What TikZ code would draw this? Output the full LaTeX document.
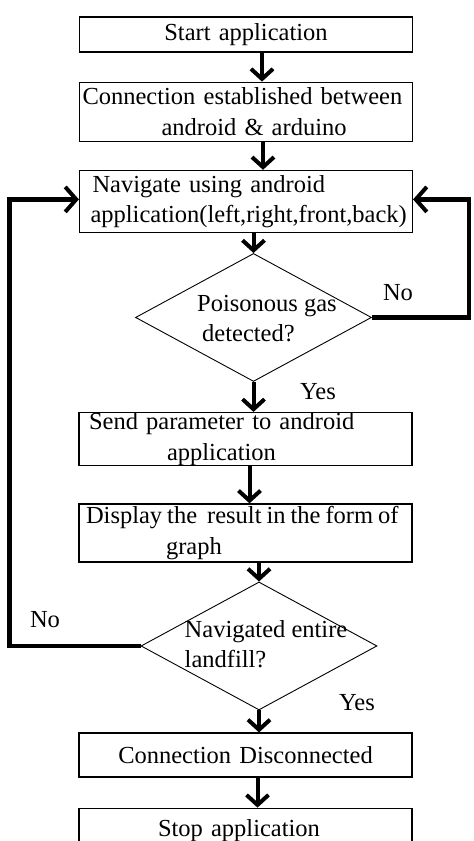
\documentclass[tikz,border=0pt]{standalone}
\usepackage{fontspec}
\setmainfont{Liberation Serif}
\usepackage{tikz}
\usetikzlibrary{
	arrows.meta,
	positioning,
	shapes,
	}

\begin{document}
\begin{tikzpicture}[x=1pt, y=-1pt,
		every node/.style={font=\fontsize{24.5}{30.5}\selectfont},
		box/.style={draw, line width=1.2pt, minimum width=333pt, text width=333pt, inner xsep=0pt, inner ysep=0pt, align=left},
		dec/.style={draw, diamond, line width=0.9pt, minimum width=236pt, minimum height=128pt, inner sep=0pt},
		dtext/.style={align=left, inner sep=0pt},
		lbl/.style={inner sep=0pt},
		flow/.style={line width=4pt, -{Straight Barb[length=10pt, width=22pt, line width=4pt]}},
		back/.style={line width=4.5pt, -{Straight Barb[length=11pt, width=25pt, line width=4pt]}},
	]
		\useasboundingbox (0,0) rectangle (474,841);
		\node[box, minimum height=35pt, align=center] (start) at (246,34.5) {Start application};
		\node[box, minimum height=59pt, below=29pt of start] (conn) {\hspace*{3pt}Connection established between\\\hspace*{82pt}android \& arduino};
		\node[box, minimum height=62pt, below=28pt of conn] (nav) {\hspace*{13pt}Navigate using android\\\hspace*{11pt}application(left,right,front,back)};
		\node[dec, below=20pt of nav, xshift=7.5pt] (gas) {};
		\node[dtext] (gastext) at ([shift={(13.5pt,-1pt)}]gas.center) {Poisonous gas\\\hspace*{5pt}detected?};
		\node[box, minimum height=52pt, below=30pt of gas, xshift=-8pt] (send) {\hspace*{10pt}Send parameter to android\\\hspace*{88pt}application};
		\node[box, minimum height=58pt, below=37.5pt of send] (disp) {\spaceskip=5pt\relax\hspace*{7pt}Display the~ result in the form of\\\hspace*{87pt}graph};
		\node[dec, below=19pt of disp, xshift=13.5pt] (land) {};
		\node[dtext] (landtext) at ([shift={(7pt,2pt)}]land.center) {Navigated entire\\landfill?};
		\node[box, minimum height=44pt, align=center, below=22pt of land, xshift=-13.5pt] (disc) {Connection Disconnected};
		\node[box, minimum height=44pt, below=30pt of disc] (stop) {\hspace*{79pt}Stop application};
		\node[lbl] (gasno) at (398,293) {No};
		\node[lbl] (gasyes) at (318,392) {Yes};
		\node[lbl] (landno) at (45,620) {No};
		\node[lbl] (landyes) at (357,703) {Yes};
		\draw[flow] ([xshift=16pt]start.south) -- ([xshift=16pt]conn.north);
		\draw[flow] ([xshift=17pt]conn.south) -- ([xshift=17pt]nav.north);
		\draw[flow] (gas.north |- nav.south) -- (gas.north);
		\draw[flow] (gas.south) -- (gas.south |- send.north);
		\draw[flow] ([xshift=4pt]send.south) -- ([xshift=4pt]disp.north);
		\draw[flow] (land.north |- disp.south) -- (land.north);
		\draw[flow] (land.south) -- (land.south |- disc.north);
		\draw[flow] ([xshift=12pt]disc.south) -- ([xshift=12pt]stop.north);
		\draw[back] (gas.east) -- ++(97pt,0) |- ([yshift=2pt]nav.east);
		\draw[back] (land.west) -- ++(-131pt,0) |- ([yshift=2pt]nav.west);
	\end{tikzpicture}
\end{document}
